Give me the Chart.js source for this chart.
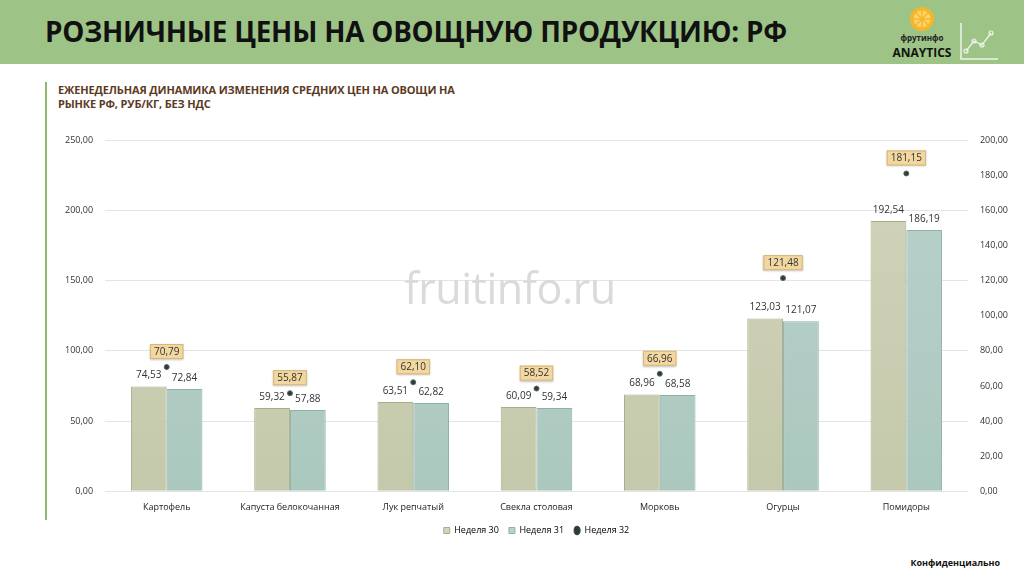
<!DOCTYPE html>
<html lang="ru">
<head>
<meta charset="UTF-8">
<title>Розничные цены на овощную продукцию: РФ</title>
<script src="https://cdn.jsdelivr.net/npm/chart.js"></script>
<style>
  html, body { margin: 0; padding: 0; background: #fff; font-family: "Open Sans", Arial, sans-serif; }
  #page { position: relative; width: 1024px; height: 576px; overflow: hidden; }
  .header { position: absolute; left: 0; top: 0; width: 1024px; height: 64px; background: #9dc486; }
  .header h1 { position: absolute; left: 45px; top: 12px; margin: 0; font-size: 27.8px; font-weight: 700; color: #111; letter-spacing: -0.2px; }
  .logo { position: absolute; left: 890px; top: 5px; width: 110px; height: 58px; }
  .vline { position: absolute; left: 45px; top: 82px; width: 2px; height: 438px; background: #8db86f; }
  .subtitle { position: absolute; left: 58px; top: 83px; font-size: 11px; font-weight: 700; color: #5b3b1f; line-height: 14px; letter-spacing: -0.15px; }
  .watermark { position: absolute; left: 0; width: 1024px; top: 258px; text-align: center; font-size: 43px; color: #dadada; font-weight: 400; letter-spacing: -0.5px; }
  .wm-inner { display: inline-block; margin-left: -4px; }
  #wrap { position: absolute; left: 53px; top: 123px; width: 967px; height: 422px; }
  .conf { position: absolute; right: 24px; top: 556px; font-size: 9px; font-weight: 700; color: #111; }
</style>
</head>
<body>
<div id="page">
  <div class="header">
    <h1>РОЗНИЧНЫЕ ЦЕНЫ НА ОВОЩНУЮ ПРОДУКЦИЮ: РФ</h1>
    <svg class="logo" viewBox="0 0 110 58">
      <circle cx="32" cy="14" r="12" fill="#f7b529"/>
      <circle cx="32" cy="14" r="8.5" fill="#fcd46a"/>
      <g stroke="#f7b529" stroke-width="1.4">
        <line x1="32" y1="4" x2="32" y2="24"/><line x1="22" y1="14" x2="42" y2="14"/>
        <line x1="25" y1="7" x2="39" y2="21"/><line x1="39" y1="7" x2="25" y2="21"/>
      </g>
      <text x="32" y="36" font-size="8" text-anchor="middle" fill="#222" font-family="Open Sans" font-weight="700">фрутинфо</text>
      <text x="32" y="52" font-size="12" text-anchor="middle" fill="#111" font-family="Open Sans" font-weight="700">ANAYTICS</text>
      <polyline points="71,18 71,54 108,54" fill="none" stroke="#eef4e8" stroke-width="1.5"/>
      <polyline points="76,46 84,36 92,40 101,28" fill="none" stroke="#eef4e8" stroke-width="1.3"/>
      <g fill="none" stroke="#eef4e8" stroke-width="1.2">
        <circle cx="76" cy="46" r="2"/><circle cx="84" cy="36" r="2"/><circle cx="92" cy="40" r="2"/><circle cx="101" cy="28" r="2"/>
      </g>
    </svg>
  </div>
  <div class="vline"></div>
  <div class="subtitle">ЕЖЕНЕДЕЛЬНАЯ ДИНАМИКА ИЗМЕНЕНИЯ СРЕДНИХ ЦЕН НА ОВОЩИ НА<br>РЫНКЕ РФ, РУБ/КГ, БЕЗ НДС</div>
  <div id="wrap"><canvas id="chart"></canvas></div>
  <div class="watermark"><span class="wm-inner">fruitinfo.ru</span></div>
  <div class="conf">Конфиденциально</div>
</div>

<script>
const categories = ["Картофель", "Капуста белокочанная", "Лук репчатый", "Свекла столовая", "Морковь", "Огурцы", "Помидоры"];
const week30 = [74.53, 59.32, 63.51, 60.09, 68.96, 123.03, 192.54];
const week31 = [72.84, 57.88, 62.82, 59.34, 68.58, 121.07, 186.19];
const week32 = [70.79, 55.87, 62.10, 58.52, 66.96, 121.48, 181.15];
const seriesNames = ["Неделя 30", "Неделя 31", "Неделя 32"];
const leftTicks = [0, 50, 100, 150, 200, 250];
const rightTicks = [0, 20, 40, 60, 80, 100, 120, 140, 160, 180, 200];

function fmt(v) { return v.toFixed(2).replace('.', ','); }

function grad(ctx, top, bottom) {
  const c = ctx.chart, area = c.chartArea;
  if (!area) return top;
  const g = c.ctx.createLinearGradient(0, area.top, 0, area.bottom);
  g.addColorStop(0, top);
  g.addColorStop(1, bottom);
  return g;
}

// подписи значений: над столбцами и в рамках над точками
const valueLabels = {
  id: 'valueLabels',
  afterDatasetsDraw(chart) {
    const ctx = chart.ctx;
    ctx.save();
    ctx.font = '10px "Open Sans", Arial, sans-serif';
    ctx.textAlign = 'center';
    ctx.textBaseline = 'bottom';
    [0, 1].forEach(di => {
      const meta = chart.getDatasetMeta(di);
      meta.data.forEach((el, i) => {
        ctx.fillStyle = '#333';
        ctx.fillText(fmt(chart.data.datasets[di].data[i]), el.x, el.y - 6);
      });
    });
    const meta = chart.getDatasetMeta(2);
    meta.data.forEach((el, i) => {
      const txt = fmt(chart.data.datasets[2].data[i]);
      const w = ctx.measureText(txt).width + 8, h = 15;
      const bx = el.x - w / 2, by = el.y - 8 - h;
      ctx.shadowColor = 'rgba(0,0,0,0.25)';
      ctx.shadowBlur = 2;
      ctx.shadowOffsetY = 1;
      ctx.fillStyle = '#f2d8a0';
      ctx.fillRect(bx, by, w, h);
      ctx.shadowColor = 'transparent';
      ctx.strokeStyle = '#d6b67a';
      ctx.lineWidth = 1;
      ctx.strokeRect(bx + 0.5, by + 0.5, w - 1, h - 1);
      ctx.fillStyle = '#333';
      ctx.textBaseline = 'middle';
      ctx.fillText(txt, el.x, by + h / 2 + 0.5);
      ctx.textBaseline = 'bottom';
    });
    ctx.restore();
  }
};

new Chart(document.getElementById('chart'), {
  type: 'bar',
  data: {
    labels: categories,
    datasets: [
      {
        label: seriesNames[0], data: week30, yAxisID: 'y', order: 2,
        backgroundColor: ctx => grad(ctx, '#d2d4bb', '#c5c9ab'),
        borderColor: '#a8ad8c', borderWidth: 1,
        categoryPercentage: 0.58, barPercentage: 1.0
      },
      {
        label: seriesNames[1], data: week31, yAxisID: 'y', order: 2,
        backgroundColor: ctx => grad(ctx, '#b9d2cb', '#abc8bf'),
        borderColor: '#8fb1a7', borderWidth: 1,
        categoryPercentage: 0.58, barPercentage: 1.0
      },
      {
        type: 'line', label: seriesNames[2], data: week32, yAxisID: 'y1', order: 1,
        showLine: false, pointRadius: 2.5, pointHoverRadius: 2.5,
        pointBackgroundColor: '#2e3b38', pointBorderColor: '#5b6b67', borderColor: '#2e3b38'
      }
    ]
  },
  options: {
    responsive: true,
    maintainAspectRatio: false,
    animation: false,
    layout: { padding: { top: 4, right: 0, left: 0, bottom: 0 } },
    plugins: {
      tooltip: { enabled: false },
      legend: {
        position: 'bottom',
        labels: {
          font: { size: 9, family: '"Open Sans", Arial, sans-serif' },
          color: '#333',
          boxWidth: 6, boxHeight: 6, padding: 10,
          generateLabels(chart) {
            return chart.data.datasets.map((ds, i) => ({
              text: ds.label,
              fillStyle: i === 0 ? '#d2d4bb' : i === 1 ? '#b9d2cb' : '#2e3b38',
              strokeStyle: i === 0 ? '#a8ad8c' : i === 1 ? '#8fb1a7' : '#2e3b38',
              lineWidth: 1,
              pointStyle: i === 2 ? 'circle' : 'rect',
              datasetIndex: i
            }));
          },
          usePointStyle: true, pointStyleWidth: 6
        }
      }
    },
    scales: {
      x: {
        grid: { display: false },
        border: { display: false },
        ticks: { font: { size: 9, family: '"Open Sans", Arial, sans-serif' }, color: '#222', padding: 3 }
      },
      y: {
        position: 'left',
        min: 0, max: 250,
        afterBuildTicks: axis => { axis.ticks = leftTicks.map(v => ({ value: v })); },
        grid: { color: '#e4e4e4', drawTicks: false },
        border: { display: false },
        ticks: { font: { size: 9, family: '"Open Sans", Arial, sans-serif' }, color: '#333', padding: 12, callback: v => fmt(v) }
      },
      y1: {
        position: 'right',
        min: 0, max: 200,
        afterBuildTicks: axis => { axis.ticks = rightTicks.map(v => ({ value: v })); },
        grid: { display: false, drawTicks: false },
        border: { display: false },
        ticks: { font: { size: 9, family: '"Open Sans", Arial, sans-serif' }, color: '#333', padding: 12, callback: v => fmt(v) }
      }
    }
  },
  plugins: [valueLabels]
});
</script>
</body>
</html>
